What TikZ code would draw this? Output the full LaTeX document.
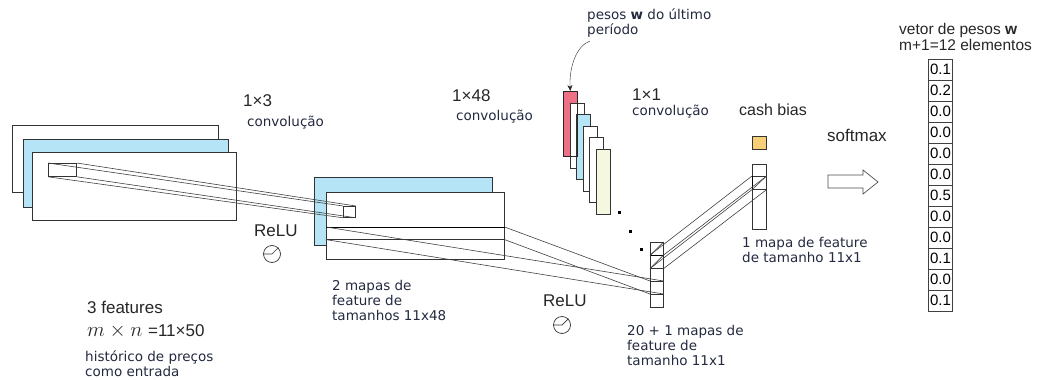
\documentclass[tikz,border=0pt]{standalone}
\usepackage{fontspec}
\usepackage{amsmath}
\usepackage{xcolor}
\usetikzlibrary{arrows.meta}
\setmainfont{DejaVu Sans}
\newfontfamily\arialfont{Liberation Sans}
\definecolor{mapblue}{RGB}{180,228,245}
\definecolor{wpink}{RGB}{238,112,135}
\definecolor{wyellow}{RGB}{245,248,222}
\definecolor{biasorange}{RGB}{246,207,118}
\definecolor{txtblue}{RGB}{35,42,64}

\begin{document}
\begin{tikzpicture}%
  [x=1pt,y=-1pt,every node/.style={inner sep=0}]
  \tikzstyle{map}=[rectangle,draw=black!80,fill=white,anchor=north west,line width=0.6pt]
  \tikzstyle{cell}=[map,minimum width=13pt,minimum height=13pt]
  \tikzstyle{band}=[draw=black!75,line width=0.6pt]
  \tikzstyle{lab}=[anchor=west,align=left,text=txtblue,
    font=\fontsize{13.5}{15}\selectfont]
  \tikzstyle{alab}=[anchor=west,align=left,text=black!85,
    font=\arialfont\fontsize{17}{19}\selectfont]
  \tikzstyle{vcell}=[rectangle,draw=black!75,minimum width=24pt,
    minimum height=21pt,text width=22pt,align=right,
    font=\arialfont\fontsize{15}{17}\selectfont]
  \useasboundingbox (0,0) rectangle (1045,380);

  % entrada: 3 features
  \node[map,minimum width=206pt,minimum height=67pt] (in1) at (12,125) {};
  \node[map,fill=mapblue,minimum width=205pt,minimum height=68pt] (in2) at (23,139) {};
  \node[map,minimum width=204pt,minimum height=68pt] (in3) at (32,152) {};
  \node[map,minimum width=28pt,minimum height=13pt,thick] (k1) at (48,163) {};

  % 2 mapas de feature
  \node[map,fill=mapblue,minimum width=178pt,minimum height=68pt] (l2b) at (314,177) {};
  \node[map,minimum width=178pt,minimum height=67pt] (l2) at (326,192) {};
  \node[map,minimum width=178pt,minimum height=12pt] (strip) at (326,227) {};
  \draw[thick] (strip.north west) -- (strip.north east);
  \node[map,minimum width=12pt,minimum height=11pt,thick] (t1) at (343,206) {};

  \draw[band] (k1.north west) -- (t1.north west);
  \draw[band] (k1.north east) -- (t1.north east);
  \draw[band] (k1.south west) -- (t1.south west);
  \draw[band] (k1.south east) -- (t1.south east);

  % 20 + 1 mapas
  \foreach \i in {1,...,5}
    \node[cell] (col\i) at (650,{229+13*\i}) {};
  \draw[thick] (col1.south west) -- (col1.south east);
  \draw[band] (col1.south west) -- (col1.north east);
  \draw[band] (col2.south west) -- (col2.north east);

  \draw[band] (strip.north west) -- (col4.north east);
  \draw[band] (strip.north east) -- (col4.north west);
  \draw[band] (strip.south east) -- (col5.north west);
  \draw[band] (strip.south west) -- (col5.north east);

  % pesos do ultimo periodo
  \foreach \c [count=\i from 0] in {wpink,white,mapblue,white,white,wyellow}
    \node[map,fill=\c,minimum width=14pt,minimum height=65pt]
      (w\i) at ({563+6.6*\i},{91+11.6*\i}) {};
  \draw[thick,black!85] (w0.north west) rectangle (w0.south east);
  \foreach \p in {(619.5,212.5),(630.5,231.5),(641.5,249.5)}
    \fill \p ++(-1.8,-1.8) rectangle ++(3.6,3.6);

  \coordinate (wsrc) at (590,41);
  \draw[black!85,-{Stealth[length=6pt,width=5pt]}] (wsrc)
    .. controls (576,46) and (569,68) .. (w0.north);

  % 1 mapa de feature + cash bias
  \node[map,minimum width=14pt,minimum height=65pt] (one) at (752,164) {};
  \node[map,minimum width=14pt,minimum height=13pt] (oc) at (752,176) {};
  \draw[thick] (oc.north west) -- (oc.south west);
  \draw[band] (oc.south west) -- (oc.north east);
  \node[map,fill=biasorange,minimum width=14pt,minimum height=13pt] (bias) at (752,136) {};

  \draw[band] (col2.north west) -- (oc.north west);
  \draw[band] (col2.north east) -- (oc.north east);
  \draw[band] (col2.south west) -- (oc.south west);
  \draw[band] (col2.south east) -- (oc.south east);

  % softmax
  \draw[black!70,line width=0.7pt,fill=white] (828,175) -- (863,175) -- (863,170)
    -- (878,182) -- (863,194) -- (863,188) -- (828,188) -- cycle;

  % vetor de pesos
  \foreach \v [count=\i] in {0.1,0.2,0.0,0.0,0.0,0.0,0.5,0.0,0.0,0.1,0.0,0.1}
    \node[vcell] (v\i) at (940,{48.5+21*\i}) {\v};

  % ReLU
  \node[alab] (relu1) at (254,231) {ReLU};
  \node[circle,draw=black!80,line width=0.7pt,minimum size=17pt] (act1) at (272,254) {};
  \draw[black!80,line width=0.7pt] (act1.west) -- (act1.center) -- (act1.north east);
  \node[alab] (relu2) at (543,301) {ReLU};
  \node[circle,draw=black!80,line width=0.7pt,minimum size=17pt] (act2) at (562,325) {};
  \draw[black!80,line width=0.7pt] (act2.west) -- (act2.center) -- (act2.north east);

  % textos
  \node[alab] (conv1k) at (243,101) {1×3};
  \node[lab] (conv1) at (247,123) {convolução};
  \node[alab] (conv2k) at (452,96) {1×48};
  \node[lab] (conv2) at (456,117) {convolução};
  \node[alab] (conv3k) at (632,95) {1×1};
  \node[lab] (conv3) at (632,112) {convolução};
  \node[lab] (lastw) at (587,23) {pesos \textbf{w} do último\\período};
  \node[alab,font=\arialfont\fontsize{16}{18}\selectfont] (cash) at (739,110) {cash bias};
  \node[alab] (soft) at (827,135) {softmax};
  \node[alab,font=\arialfont\fontsize{15.5}{16.5}\selectfont] (vtit) at (899,37)
    {vetor de pesos \textbf{w}\\m+1=12 elementos};
  \node[alab,font=\arialfont\fontsize{17}{23}\selectfont] (feat) at (87,320)
    {3 features\\{\fontsize{19.5}{23}\selectfont$m\times n$}\,\,=11×50};
  \node[lab] (hist) at (85,364) {histórico de preços\\como entrada};
  \node[lab] (maps2) at (332,300.5) {2 mapas de\\feature de\\tamanhos 11x48};
  \node[lab] (maps21) at (627,345) {20 + 1 mapas de\\feature de\\tamanho 11x1};
  \node[lab] (maps1) at (742,249.5) {1 mapa de feature\\de tamanho 11x1};
\end{tikzpicture}
\end{document}
